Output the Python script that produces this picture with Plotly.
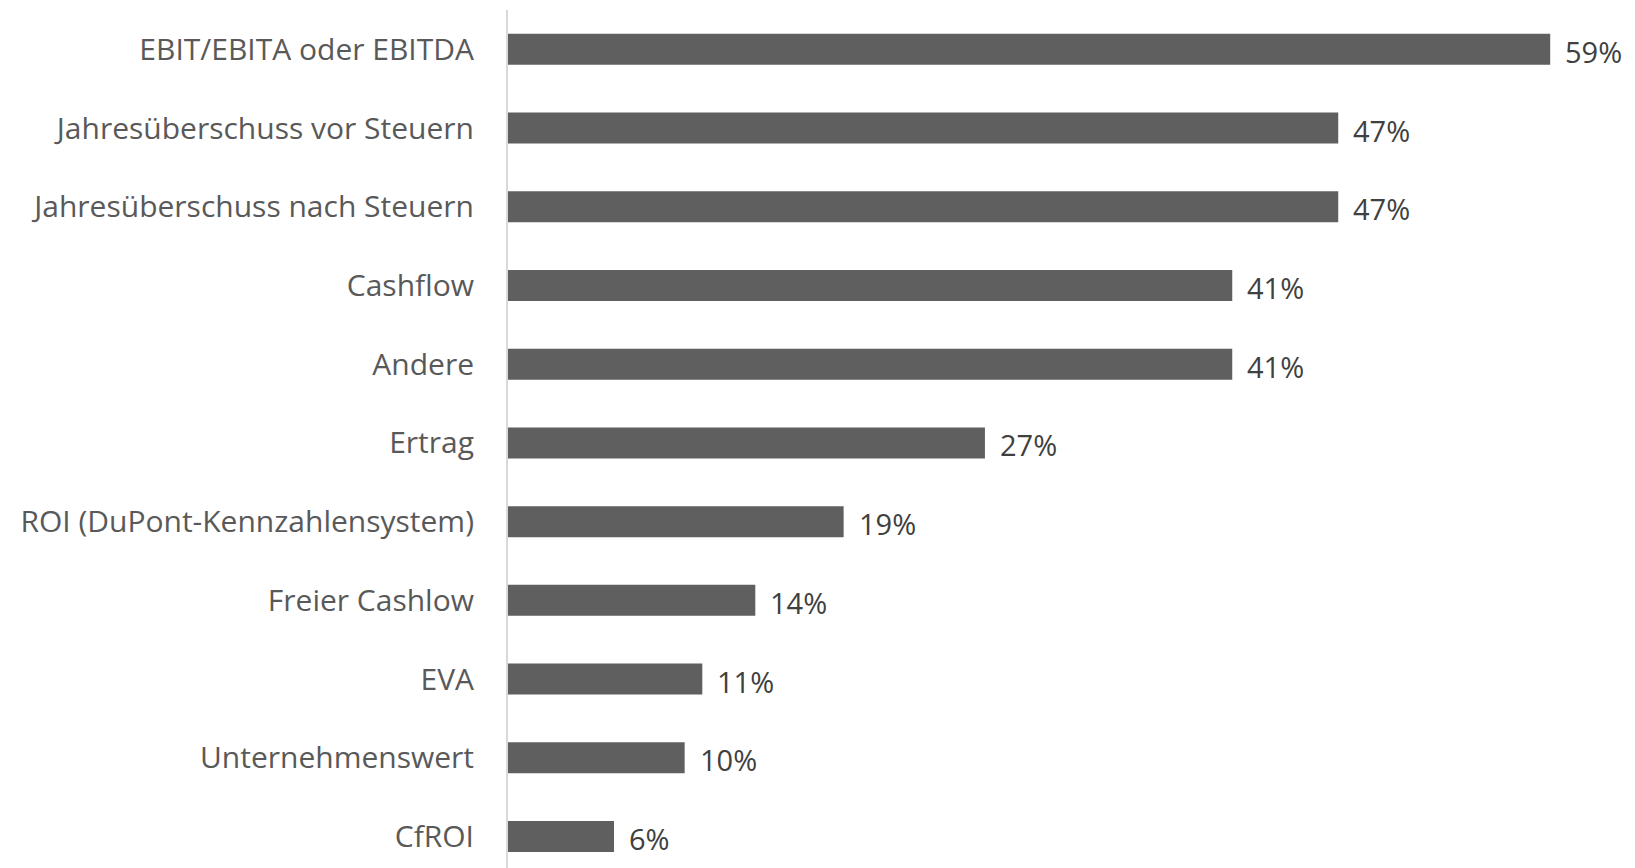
import plotly.graph_objects as go

categories = [
    "EBIT/EBITA oder EBITDA",
    "Jahresüberschuss vor Steuern",
    "Jahresüberschuss nach Steuern",
    "Cashflow",
    "Andere",
    "Ertrag",
    "ROI (DuPont-Kennzahlensystem)",
    "Freier Cashlow",
    "EVA",
    "Unternehmenswert",
    "CfROI",
]
values = [59, 47, 47, 41, 41, 27, 19, 14, 11, 10, 6]
value_labels = [f"{v}%" for v in values]

FONT = "Open Sans"

fig = go.Figure(
    go.Bar(
        x=values,
        y=categories,
        orientation="h",
        marker=dict(color="#5f5f5f", line=dict(width=0)),
        width=0.394,
        hoverinfo="skip",
    )
)

for cat, v, lab in zip(categories, values, value_labels):
    fig.add_annotation(
        x=v,
        y=cat,
        text=lab,
        showarrow=False,
        xanchor="left",
        yanchor="middle",
        xshift=13,
        yshift=-2,
        font=dict(family=FONT, size=29, color="#404040"),
    )

fig.update_layout(
    width=1635,
    height=868,
    margin=dict(l=508, r=0, t=10, b=0),
    paper_bgcolor="white",
    plot_bgcolor="white",
    showlegend=False,
    font=dict(family=FONT, color="#595959", size=29),
    xaxis=dict(
        range=[0, 63.8],
        showgrid=False,
        zeroline=False,
        showticklabels=False,
        showline=False,
        fixedrange=True,
    ),
    yaxis=dict(
        type="category",
        categoryorder="array",
        categoryarray=categories,
        range=[10.4, -0.5],
        showgrid=False,
        zeroline=False,
        showline=True,
        linecolor="#d9d9d9",
        linewidth=2,
        ticks="",
        ticklabelstandoff=26,
        tickfont=dict(size=30, color="#595959", family=FONT),
    ),
)

fig.write_html("out.html")
